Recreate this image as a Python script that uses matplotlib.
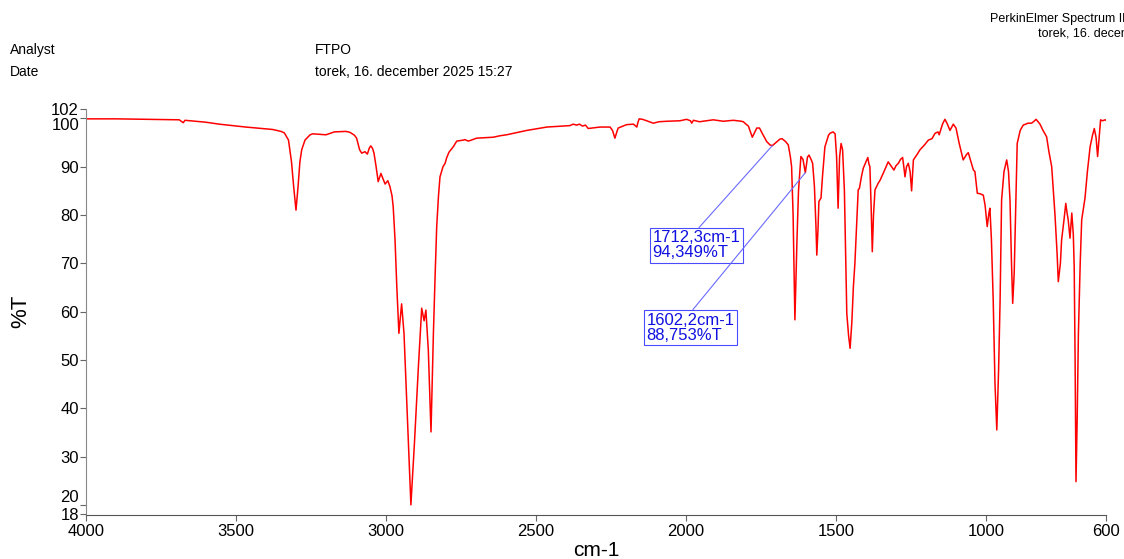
import matplotlib
matplotlib.use('Agg')
import matplotlib.pyplot as plt

plt.rcParams['font.family'] = ['Liberation Sans', 'DejaVu Sans']

# spectrum (wavenumber cm-1, %T)
wavenumber = [4000, 3900, 3800, 3700, 3689, 3676, 3670, 3600, 3556, 3467, 3378, 3350, 3339, 3325, 3315, 3308,
              3300, 3293, 3287, 3281, 3270, 3253, 3244, 3200, 3172, 3133, 3120, 3105, 3098, 3088, 3081, 3070,
              3062, 3056, 3051, 3045, 3040, 3033, 3026, 3017, 3010, 3003, 2994, 2987, 2980, 2976, 2970, 2964,
              2957, 2948, 2940, 2930, 2917, 2905, 2892, 2881, 2873, 2867, 2859, 2850, 2842, 2836, 2831, 2825,
              2820, 2810, 2803, 2798, 2790, 2776, 2764, 2742, 2737, 2726, 2720, 2698, 2642, 2620, 2598, 2531,
              2464, 2387, 2376, 2365, 2355, 2345, 2335, 2326, 2287, 2253, 2245, 2237, 2230, 2226, 2198, 2175,
              2164, 2160, 2156, 2145, 2131, 2109, 2090, 2064, 2020, 1998, 1985, 1981, 1975, 1955, 1931, 1909,
              1876, 1842, 1815, 1809, 1800, 1792, 1779, 1764, 1755, 1745, 1731, 1720, 1712.3, 1700, 1687, 1680,
              1668, 1659, 1652, 1648, 1643, 1637, 1630, 1625, 1617, 1610, 1602.2, 1595, 1590, 1583, 1578, 1572,
              1567, 1564, 1560, 1557, 1550, 1545, 1537, 1525, 1520, 1510, 1503, 1498, 1493, 1488, 1483, 1478,
              1472, 1464, 1458, 1453, 1447, 1442, 1437, 1426, 1422, 1415, 1409, 1394, 1390, 1387, 1383, 1379,
              1375, 1370, 1360, 1353, 1340, 1326, 1315, 1307, 1300, 1292, 1285, 1278, 1274, 1270, 1265, 1259,
              1253, 1248, 1242, 1230, 1220, 1205, 1192, 1180, 1170, 1160, 1156, 1145, 1137, 1130, 1120, 1109,
              1100, 1090, 1076, 1065, 1059, 1050, 1042, 1037, 1029, 1020, 1009, 1003, 996, 990, 987, 982,
              976, 970, 964, 958, 953, 948, 940, 931, 925, 920, 915, 911, 906, 903, 896, 886,
              876, 860, 848, 840, 833, 820, 810, 798, 790, 781, 770, 763, 759, 752, 748, 740,
              734, 730, 726, 720, 714, 709, 706, 703, 700, 696, 692, 686, 681, 670, 662, 653,
              645, 639, 633, 628, 623, 618, 612, 603, 600]
transmittance = [99.9, 99.9, 99.8, 99.7, 99.7, 99.1, 99.6, 99.2, 98.8, 98.2, 97.7, 97.3, 97.0, 95.5, 91.0, 86.0,
                 81.0, 86.0, 91.0, 93.5, 95.5, 96.6, 96.8, 96.6, 97.2, 97.3, 97.1, 96.5, 95.9, 93.5, 92.8, 93.1,
                 92.6, 93.8, 94.3, 93.8, 92.8, 90.0, 86.9, 88.6, 87.5, 86.4, 87.1, 85.9, 84.0, 81.7, 75.0, 65.2,
                 55.5, 61.6, 55.5, 40.0, 20.0, 33.0, 48.6, 60.7, 58.1, 60.3, 52.1, 35.1, 55.5, 68.0, 77.6, 84.0,
                 87.9, 90.0, 90.7, 91.8, 93.0, 94.1, 95.3, 95.5, 95.6, 95.3, 95.4, 95.9, 96.1, 96.4, 96.6, 97.5,
                 98.2, 98.5, 98.8, 98.6, 98.8, 98.4, 98.6, 97.9, 98.2, 98.2, 97.5, 95.9, 97.3, 98.0, 98.7, 98.8,
                 98.2, 99.2, 99.9, 99.8, 99.5, 99.0, 99.3, 99.4, 99.5, 99.8, 99.5, 99.0, 99.6, 99.3, 99.5, 99.7,
                 99.4, 99.6, 99.4, 99.3, 98.8, 98.4, 96.1, 98.0, 98.0, 96.8, 95.2, 94.5, 94.349, 95.0, 95.7, 95.8,
                 95.2, 94.5, 92.0, 90.0, 80.0, 58.3, 75.0, 85.0, 92.1, 91.5, 88.753, 92.0, 92.4, 91.5, 90.7, 86.0,
                 78.0, 71.7, 77.0, 82.8, 83.5, 88.0, 94.1, 96.5, 96.9, 97.2, 96.8, 92.0, 81.4, 92.0, 94.8, 93.5,
                 85.0, 59.6, 55.0, 52.4, 58.0, 65.2, 70.0, 85.2, 85.5, 88.0, 89.7, 91.9, 90.5, 90.0, 82.0, 72.4,
                 80.0, 85.2, 86.5, 87.2, 89.0, 91.0, 90.0, 89.3, 90.2, 90.7, 91.5, 91.9, 90.0, 87.9, 90.0, 90.7,
                 89.0, 85.0, 91.4, 92.5, 93.5, 94.5, 95.5, 95.8, 96.9, 97.2, 96.6, 98.8, 99.8, 99.0, 97.5, 98.8,
                 98.0, 95.0, 91.4, 92.5, 92.9, 91.0, 89.3, 89.0, 84.5, 84.4, 84.1, 82.0, 77.6, 80.5, 81.4, 75.0,
                 62.4, 45.0, 35.5, 48.0, 62.4, 83.1, 89.0, 91.4, 89.0, 83.1, 70.0, 61.7, 68.0, 76.2, 94.8, 97.5,
                 98.6, 99.0, 99.0, 99.4, 99.8, 98.8, 97.5, 96.2, 93.0, 90.0, 80.0, 72.0, 66.2, 70.0, 74.8, 79.0,
                 82.4, 80.5, 79.0, 75.2, 80.4, 76.0, 69.3, 50.0, 24.8, 38.0, 55.5, 70.0, 79.0, 83.5, 89.0, 94.1,
                 96.5, 97.9, 96.0, 92.1, 96.0, 99.7, 99.5, 99.7, 99.6]

# labelled peaks
peak_wn = [1712.3, 1602.2]
peak_t = [94.349, 88.753]
label_pos = [(2111.7, 76.8), (2131.7, 59.8)]

x_ticks = [4000, 3500, 3000, 2500, 2000, 1500, 1000, 600]
y_ticks = [102, 100, 90, 80, 70, 60, 50, 40, 30, 20, 18]

W, H = 1124, 559
fig = plt.figure(figsize=(W / 100, H / 100), dpi=100)
ax = fig.add_axes([86 / W, 1 - 514.5 / H, (1106 - 86) / W, (514.5 - 108.7) / H])

ax.plot(wavenumber, transmittance, color='#ff0000', lw=1.1)
ax.set_xlim(4000, 600)
ax.set_ylim(18, 102)

for s in ['top', 'right']:
    ax.spines[s].set_visible(False)
ax.spines['left'].set_color('#888888')
ax.spines['bottom'].set_color('#555555')

ax.set_xticks(x_ticks)
ax.set_yticks(y_ticks)
ax.tick_params(axis='both', labelsize=12, length=4, width=0.8, color='#666666')
ax.tick_params(axis='x', pad=3)
ax.tick_params(axis='y', pad=1)
for lab in ax.get_yticklabels():
    if lab.get_text() == '100':
        lab.set_va('top')
    elif lab.get_text() == '20':
        lab.set_va('bottom')

ax.set_xlabel('cm-1', fontsize=15, labelpad=1)
ax.set_ylabel('%T', fontsize=16, labelpad=14)

for wn, t, (tx, ty) in zip(peak_wn, peak_t, label_pos):
    txt = f"{wn:.1f}".replace('.', ',') + "cm-1\n" + f"{t:.3f}".replace('.', ',') + "%T"
    ax.annotate(txt, xy=(wn, t), xytext=(tx, ty), ha='left', va='top',
                fontsize=12, color='#1010e0', linespacing=1.0,
                bbox=dict(boxstyle='square,pad=0.15', fc='white', ec='#4a4aff', lw=0.8),
                arrowprops=dict(arrowstyle='-', color='#6a6aff', lw=0.8,
                                shrinkA=0, shrinkB=0, relpos=(0.5, 1.0)))

# header
fig.text(10 / W, 1 - 50 / H, 'Analyst', fontsize=10, va='center')
fig.text(10 / W, 1 - 72 / H, 'Date', fontsize=10, va='center')
fig.text(315 / W, 1 - 50 / H, 'FTPO', fontsize=10, va='center')
fig.text(315 / W, 1 - 72 / H, 'torek, 16. december 2025 15:27', fontsize=10, va='center')
fig.text(990 / W, 1 - 19 / H, 'PerkinElmer Spectrum IR', fontsize=9, va='center')
fig.text(1038 / W, 1 - 34 / H, 'torek, 16. december 2025 15:27', fontsize=9, va='center')

fig.savefig('out.png', dpi=100)
